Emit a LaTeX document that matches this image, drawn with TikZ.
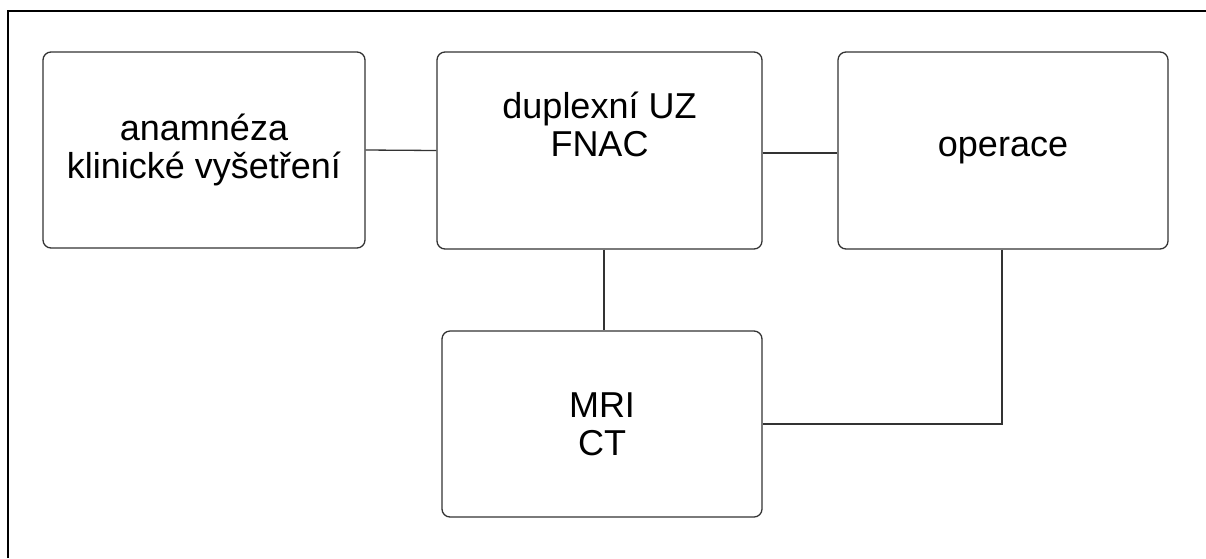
\documentclass[tikz,border=0pt]{standalone}
\usepackage{fontspec}
\setmainfont{Liberation Sans}
\begin{document}
\begin{tikzpicture}[x=1pt,y=-1pt,
  box/.style={draw=black!80,line width=1.3pt,rounded corners=8pt,inner sep=0pt,align=center,
    font=\fontsize{36}{38}\selectfont},
  link/.style={draw=black!80,line width=1.3pt},
  frame/.style={draw=black,line width=2.6pt}]
\useasboundingbox (0,0) rectangle (1206,558);
\coordinate (fa) at (8,558);
\coordinate (fb) at (8,11);
\coordinate (fc) at (1206,11);
\draw[frame] (fa) -- (fb) -- (fc);
\node[box,minimum width=322pt,minimum height=196pt] (b1) at (204,150) {anamnéza\\klinické vyšetření};
\node[box,minimum width=325pt,minimum height=197pt] (b2) at (599.5,150.5) {duplexní UZ\\FNAC\\[14pt]};
\node[box,minimum width=330pt,minimum height=197pt] (b3) at (1003,150.5) {operace};
\node[box,minimum width=320pt,minimum height=186pt] (b4) at (602,424) {MRI\\CT};
\draw[link] (b1.east) -- (b2.west);
\draw[link] (b2.east |- 0,153) -- (b3.west |- 0,153);
\draw[link] (b2.south -| 604,0) -- (b4.north -| 604,0);
\draw[link] (b3.south -| 1002,0) |- (b4.east);
\end{tikzpicture}
\end{document}
